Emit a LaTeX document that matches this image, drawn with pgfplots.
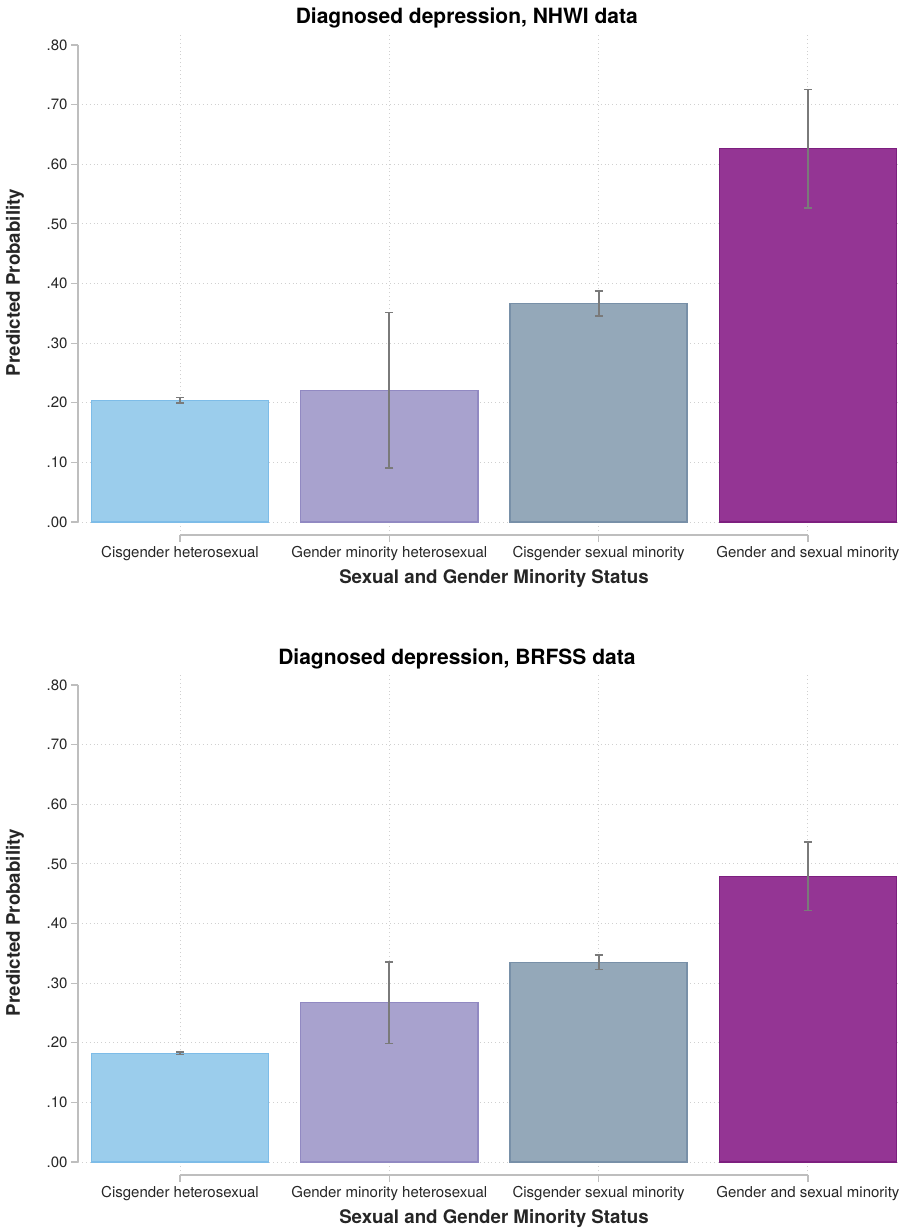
\documentclass[border=0pt]{standalone}
\usepackage{fontspec}
\setmainfont{TeX Gyre Heros}
\usepackage{pgfplots}
\pgfplotsset{compat=1.18}
\definecolor{cAfill}{HTML}{9BCDEC}
\definecolor{cAedge}{HTML}{7DBCE8}
\definecolor{cBfill}{HTML}{A8A2CE}
\definecolor{cBedge}{HTML}{9189C2}
\definecolor{cCfill}{HTML}{94A8B9}
\definecolor{cCedge}{HTML}{7890A8}
\definecolor{cDfill}{HTML}{943594}
\definecolor{cDedge}{HTML}{7D1F7F}
\definecolor{axgray}{HTML}{BEBEBE}
\definecolor{gridgray}{HTML}{D0D0D0}
\definecolor{errgray}{HTML}{7A7A7A}
\definecolor{txt}{HTML}{262626}
\pgfplotsset{
  sgm/.style={
    scale only axis, width=822pt, height=502pt,
    xmin=0.5127, xmax=4.44, ymin=-0.0218, ymax=0.82,
    clip=false,
    axis lines=left, axis line style={draw=none},
    tick align=outside, major tick length=7pt,
    tick style={axgray, line width=1.2pt},
    xtick={1,2,3,4},
    xticklabels={Cisgender heterosexual, Gender minority heterosexual, Cisgender sexual minority, Gender and sexual minority},
    ytick={0,0.1,0.2,0.3,0.4,0.5,0.6,0.7},
    yticklabels={.00,.10,.20,.30,.40,.50,.60,.70},
    extra y ticks={0.8}, extra y tick labels={.80},
    extra y tick style={grid=none},
    grid=major, major grid style={gridgray, line width=0.9pt, dash pattern=on 0.9pt off 3pt},
    ticklabel style={font=\fontsize{15}{17}\selectfont, text=txt},
    xticklabel style={yshift=-1pt},
    ylabel={Predicted Probability},
    xlabel={Sexual and Gender Minority Status},
    label style={font=\bfseries\fontsize{18.7}{21}\selectfont, text=txt},
    ylabel style={at={(rel axis cs:-0.0766,0.503)}, anchor=center},
    xlabel style={at={(axis cs:2.5,-0.0218)}, anchor=center, yshift=-44pt},
    title style={font=\bfseries\fontsize{21}{24}\selectfont, anchor=base, yshift=3pt},
    error bars/y dir=both, error bars/y explicit,
    error bars/error bar style={errgray, line width=1.8pt},
    error bars/error mark options={errgray, rotate=90, mark size=4pt, line width=1.6pt},
  },
  sgmbar/.style={ybar, bar width=0.846, bar shift=0pt, line width=1.4pt},
}
\begin{document}
\begin{tikzpicture}[x=1pt,y=1pt]
\begin{axis}[sgm, at={(78pt,-535pt)}, anchor=south west,
  title={Diagnosed depression, NHWI data},
  title style={at={(rel axis cs:0.473,1)}}]
\addplot[sgmbar, draw=cAedge, fill=cAfill] coordinates {(1,0.204) +- (0,0.0045)};
\addplot[sgmbar, draw=cBedge, fill=cBfill] coordinates {(2,0.221) +- (0,0.130)};
\addplot[sgmbar, draw=cCedge, fill=cCfill] coordinates {(3,0.366) +- (0,0.021)};
\addplot[sgmbar, draw=cDedge, fill=cDfill] coordinates {(4,0.626) +- (0,0.099)};
\draw[axgray, line width=1.3pt] (axis cs:1,-0.0218) -- (axis cs:4,-0.0218);
\draw[axgray, line width=1.3pt] (axis cs:0.5127,0) -- (axis cs:0.5127,0.8);
\end{axis}
\begin{axis}[sgm, at={(78pt,-1175pt)}, anchor=south west,
  title={Diagnosed depression, BRFSS data},
  title style={at={(rel axis cs:0.461,1)}}]
\addplot[sgmbar, draw=cAedge, fill=cAfill] coordinates {(1,0.182) +- (0,0.002)};
\addplot[sgmbar, draw=cBedge, fill=cBfill] coordinates {(2,0.267) +- (0,0.068)};
\addplot[sgmbar, draw=cCedge, fill=cCfill] coordinates {(3,0.335) +- (0,0.0125)};
\addplot[sgmbar, draw=cDedge, fill=cDfill] coordinates {(4,0.479) +- (0,0.0575)};
\draw[axgray, line width=1.3pt] (axis cs:1,-0.0218) -- (axis cs:4,-0.0218);
\draw[axgray, line width=1.3pt] (axis cs:0.5127,0) -- (axis cs:0.5127,0.8);
\end{axis}
\pgfresetboundingbox
\useasboundingbox (0,0) rectangle (904,-1228);
\end{tikzpicture}
\end{document}
